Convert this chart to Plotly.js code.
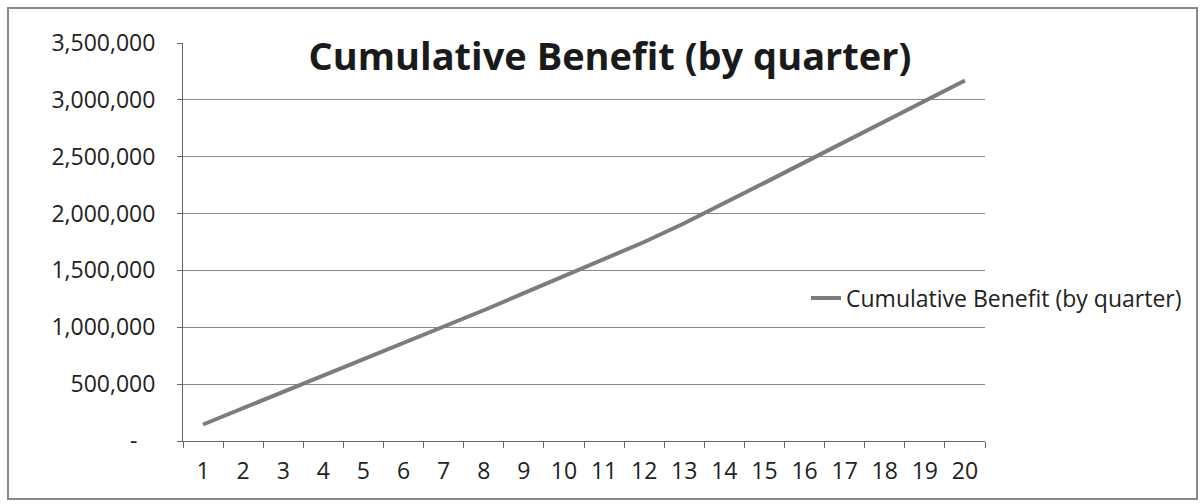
<!DOCTYPE html>
<html>
<head>
<meta charset="utf-8">
<script src="https://cdn.plot.ly/plotly-3.0.1.min.js"></script>
<style>
  html, body { margin: 0; padding: 0; background: #ffffff; }
  #chart { width: 1202px; height: 504px; }
</style>
</head>
<body>
<div id="chart"></div>
<script>
// Data
const quarters = ["1","2","3","4","5","6","7","8","9","10","11","12","13","14","15","16","17","18","19","20"];
const cumulativeBenefit = [145000, 288000, 430000, 573000, 716000, 860000, 1003000, 1150000, 1300000, 1450000,
                           1600000, 1750000, 1915000, 2090000, 2270000, 2450000, 2630000, 2810000, 2990000, 3170000];
const seriesName = "Cumulative Benefit (by quarter)";
const chartTitle = "Cumulative Benefit (by quarter)";
const yTickValues = [0, 500000, 1000000, 1500000, 2000000, 2500000, 3000000, 3500000];
const yTickLabels = ["-\u00a0\u00a0\u00a0", "500,000", "1,000,000", "1,500,000", "2,000,000", "2,500,000", "3,000,000", "3,500,000"];

const W = 1202, H = 504;
const M = { l: 183, r: 217, t: 43, b: 63 };
const pw = W - M.l - M.r, ph = H - M.t - M.b;
const px = v => (v - M.l) / pw;
const py = v => (H - M.b - v) / ph;

const trace = {
  type: "scatter",
  mode: "lines",
  x: quarters,
  y: cumulativeBenefit,
  name: seriesName,
  line: { color: "#7c7c7c", width: 4 },
  showlegend: true
};

const layout = {
  width: W,
  height: H,
  margin: M,
  paper_bgcolor: "#ffffff",
  plot_bgcolor: "#ffffff",
  font: { family: "Open Sans, sans-serif", color: "#222222" },
  title: {
    text: "<b>" + chartTitle + "</b>",
    font: { family: "Open Sans, sans-serif", size: 38, color: "#1a1a1a" },
    xref: "container", x: 610 / W, xanchor: "center",
    yref: "container", y: 1 - 57 / H, yanchor: "middle"
  },
  xaxis: {
    type: "category",
    range: [-0.5, 19.5],
    tickson: "boundaries",
    ticks: "outside",
    ticklen: 6,
    tickcolor: "#666666",
    showgrid: false,
    showline: true,
    linecolor: "#666666",
    linewidth: 1,
    tickfont: { size: 23, color: "#222222" },
    ticklabelstandoff: 9,
    fixedrange: true
  },
  yaxis: {
    range: [0, 3500000],
    tickvals: yTickValues,
    ticktext: yTickLabels,
    ticks: "outside",
    ticklen: 5,
    tickcolor: "#666666",
    showgrid: true,
    gridcolor: "#8a8a8a",
    gridwidth: 1,
    showline: true,
    linecolor: "#666666",
    linewidth: 1,
    zeroline: false,
    tickfont: { size: 23, color: "#222222" },
    ticklabelstandoff: 17,
    fixedrange: true
  },
  legend: {
    x: px(806), xanchor: "left",
    y: py(298), yanchor: "middle",
    bgcolor: "rgba(255,255,255,0)",
    borderwidth: 0,
    font: { size: 23, color: "#222222" }
  },
  shapes: [{
    type: "rect",
    xref: "paper", yref: "paper",
    x0: px(8), x1: px(1197), y0: py(499), y1: py(8),
    line: { color: "#888888", width: 2 },
    fillcolor: "rgba(0,0,0,0)",
    layer: "above"
  }]
};

Plotly.newPlot("chart", [trace], layout, { displayModeBar: false, staticPlot: true });
</script>
</body>
</html>
